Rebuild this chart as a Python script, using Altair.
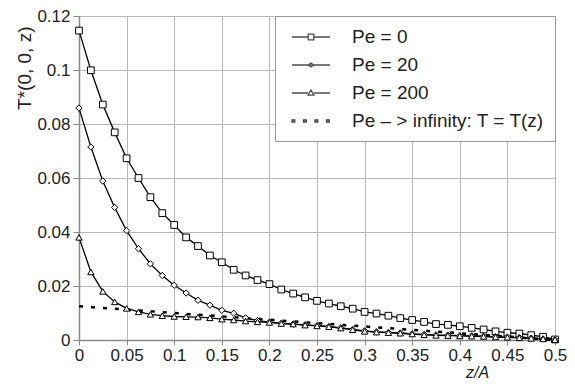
import altair as alt
import pandas as pd

# ---- data ----
z = [0, 0.0125, 0.025, 0.0375, 0.05, 0.0625, 0.075, 0.0875, 0.1, 0.1125,
     0.125, 0.1375, 0.15, 0.1625, 0.175, 0.1875, 0.2, 0.2125, 0.225, 0.2375,
     0.25, 0.2625, 0.275, 0.2875, 0.3, 0.3125, 0.325, 0.3375, 0.35, 0.3625,
     0.375, 0.3875, 0.4, 0.4125, 0.425, 0.4375, 0.45, 0.4625, 0.475, 0.4875, 0.5]

pe0 = [0.1146, 0.0999, 0.0872, 0.0769, 0.0673, 0.0600, 0.0529, 0.0470, 0.0426, 0.0380,
       0.0348, 0.0313, 0.0288, 0.0260, 0.0239, 0.0222, 0.0207, 0.0187, 0.0172, 0.0158,
       0.0145, 0.0135, 0.0125, 0.0116, 0.0104, 0.0098, 0.0090, 0.0081, 0.0074, 0.0067,
       0.0059, 0.0056, 0.0051, 0.0045, 0.0039, 0.0032, 0.0027, 0.0024, 0.0018, 0.0012, 0.0002]

pe20 = [0.0859, 0.0715, 0.0589, 0.0491, 0.0405, 0.0338, 0.0282, 0.0239, 0.0203, 0.0174,
        0.0147, 0.0129, 0.0110, 0.0099, 0.0082, 0.0072, 0.0066, 0.0062, 0.0059, 0.0056,
        0.0053, 0.0050, 0.0045, 0.0039, 0.0034, 0.0030, 0.0028, 0.0026, 0.0023, 0.0021,
        0.0019, 0.0018, 0.0016, 0.0015, 0.0014, 0.0012, 0.0011, 0.0009, 0.0007, 0.0004, 0.0001]

pe200 = [0.0380, 0.0252, 0.0180, 0.0141, 0.0117, 0.0104, 0.0095, 0.0090, 0.0087, 0.0086,
         0.0085, 0.0082, 0.0077, 0.0074, 0.0070, 0.0067, 0.0065, 0.0061, 0.0059, 0.0055,
         0.0052, 0.0049, 0.0044, 0.0038, 0.0032, 0.0029, 0.0027, 0.0025, 0.0022, 0.0019,
         0.0017, 0.0016, 0.0015, 0.0014, 0.0013, 0.0011, 0.0010, 0.0008, 0.0006, 0.0004, 0.0001]

z_inf = [0, 0.5]
t_inf = [0.0125, 0.0]

series_labels = ["Pe = 0", "Pe = 20", "Pe = 200", "Pe – > infinity: T = T(z)"]
x_ticks = [0, 0.05, 0.1, 0.15, 0.2, 0.25, 0.3, 0.35, 0.4, 0.45, 0.5]
y_ticks = [0, 0.02, 0.04, 0.06, 0.08, 0.1, 0.12]

# ---- tables ----
rows = []
for lab, vals in zip(series_labels[:3], [pe0, pe20, pe200]):
    for zz, vv in zip(z, vals):
        rows.append({"z": zz, "T": vv, "series": lab})
curves = pd.DataFrame(rows)
inf_df = pd.DataFrame({"z": z_inf, "T": t_inf, "series": series_labels[3]})
all_df = pd.concat([curves, inf_df], ignore_index=True)

FONT = "Liberation Sans"
TXT = "#222222"
LBL = "format(datum.value, '.2~f')"

xs = alt.Scale(domain=[0, 0.5], nice=False)
ys = alt.Scale(domain=[0, 0.12], nice=False)

x_enc = alt.X("z:Q", scale=xs, axis=alt.Axis(
    values=x_ticks, labelExpr=LBL, title="z/A", titleFontStyle="italic",
    titleFontWeight="normal", titleFontSize=16, titleFont=FONT, titleColor=TXT,
    titleX=398, titleY=37, titleAlign="center", titleBaseline="alphabetic",
    labelFontSize=17, labelFont=FONT, labelColor=TXT, labelPadding=2,
    labelFlush=False, labelOverlap=False,
    grid=True, gridColor="#b8b8b8", gridWidth=1,
    domainColor="#888888", domainWidth=1.5, tickColor="#888888", tickSize=5))
y_enc = alt.Y("T:Q", scale=ys, axis=alt.Axis(
    values=y_ticks, labelExpr=LBL, title="T*(0, 0, z)",
    titleFontWeight="normal", titleFontSize=19, titleFont=FONT, titleColor=TXT,
    titleX=-55, titleY=10, titleAlign="right", titleBaseline="middle", titleAngle=270,
    labelFontSize=17, labelFont=FONT, labelColor=TXT, labelPadding=3,
    labelFlush=False, labelOverlap=False,
    grid=True, gridColor="#b8b8b8", gridWidth=1,
    domainColor="#888888", domainWidth=1.5, tickColor="#888888", tickSize=6))

inf_line = alt.Chart(inf_df).mark_line(
    color="black", strokeWidth=2.5, strokeDash=[4, 8]
).encode(x=x_enc, y=y_enc)

lines = alt.Chart(curves).mark_line(color="black", strokeWidth=1.3).encode(
    x=x_enc, y=y_enc, detail="series:N")

shapes = {"Pe = 0": ("square", 45), "Pe = 20": ("diamond", 40), "Pe = 200": ("triangle-up", 40)}
point_layers = []
for lab in series_labels[:3]:
    shp, sz = shapes[lab]
    point_layers.append(
        alt.Chart(curves).transform_filter(alt.datum.series == lab).mark_point(
            shape=shp, size=sz, filled=True, fill="white", stroke="black",
            strokeWidth=1, opacity=1
        ).encode(x=x_enc, y=y_enc)
    )

legend_paths = [
    "M-1.9,0H-0.28M-0.28,-0.28H0.28V0.28H-0.28ZM0.28,0H1.9",
    "M-1.9,0H-0.26M-0.26,0L0,-0.2L0.26,0L0,0.2ZM0.26,0H1.9",
    "M-1.9,0H-0.3M-0.3,0.22L0,-0.3L0.3,0.22ZM0.3,0H1.9",
    "M-1.9,-0.12h0.28v0.24h-0.28ZM-0.75,-0.12h0.28v0.24h-0.28ZM0.4,-0.12h0.28v0.24h-0.28ZM1.55,-0.12h0.28v0.24h-0.28Z",
]
legend_fills = ["white", "black", "white", "black"]
legend_strokes = ["black", "black", "black", "black"]

leg = alt.Legend(
    title=None, orient="top-right", offset=0, padding=10,
    fillColor="white", strokeColor="#999999",
    labelFont=FONT, labelFontSize=19, labelColor=TXT, labelLimit=400,
    symbolSize=400, symbolStrokeWidth=1.3,
    symbolOffset=15, labelOffset=30, rowPadding=7,
)

legend_layer = alt.Chart(all_df).transform_filter("false").mark_point(
    size=400, filled=True, strokeWidth=1.3
).encode(
    x=x_enc, y=y_enc,
    shape=alt.Shape("series:N", scale=alt.Scale(domain=series_labels, range=legend_paths), legend=leg),
    fill=alt.Fill("series:N", scale=alt.Scale(domain=series_labels, range=legend_fills), legend=leg),
    stroke=alt.Stroke("series:N", scale=alt.Scale(domain=series_labels, range=legend_strokes), legend=leg),
)

chart = alt.layer(inf_line, lines, *point_layers, legend_layer).properties(
    width=476, height=324,
    autosize=alt.AutoSizeParams(type="none"),
    padding={"left": 71, "top": 8, "right": 12, "bottom": 39},
    background="white",
).configure_view(stroke="#b8b8b8", strokeWidth=1)

chart.save("out.html", embed_options={"renderer": "svg", "actions": False})
